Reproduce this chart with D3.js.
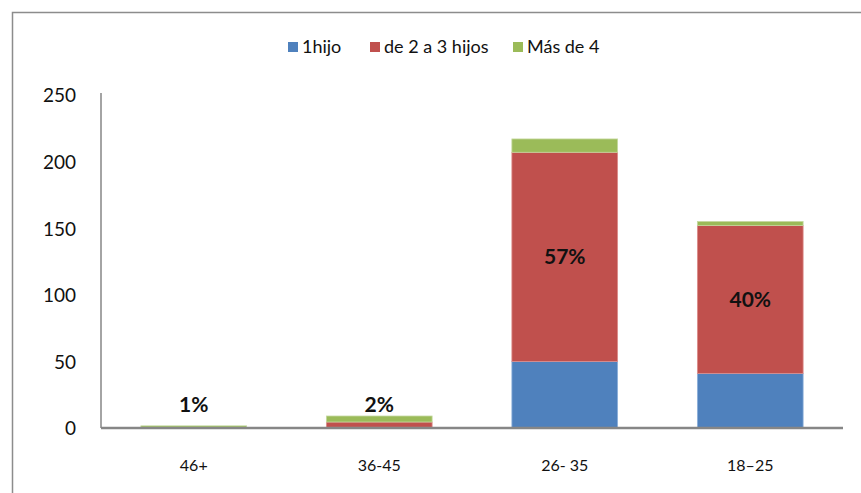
<!DOCTYPE html>
<html>
<head>
<meta charset="utf-8">
<script src="https://cdn.jsdelivr.net/npm/d3@7"></script>
<style>
  html, body { margin: 0; padding: 0; background: #fff; }
  svg { display: block; font-family: Lato, "Open Sans", sans-serif; }
</style>
</head>
<body>
<svg id="chart" width="861" height="493"></svg>
<script>
// Age groups and children counts per group
const categories = ["46+", "36-45", "26- 35", "18\u201325"];
const oneChild = [0, 0.5, 50, 41];
const twoToThree = [0.3, 4, 157, 111];
const fourPlus = [1.3, 4.5, 10, 3];
const shareLabels = ["1%", "2%", "57%", "40%"];
const seriesNames = ["1hijo", "de 2 a 3 hijos", "M\u00e1s de 4"];
const yTicks = [0, 50, 100, 150, 200, 250];

const colors = ["#4F81BD", "#C0504D", "#9BBB59"];
const strokes = ["#8EB0DA", "#DC8E8C", "#C4D99E"];

const svg = d3.select("#chart");
const W = 861, H = 493;

// outer chart frame
svg.append("rect")
  .attr("x", 12.5).attr("y", 12.5)
  .attr("width", W + 20).attr("height", H + 20)
  .attr("fill", "none").attr("stroke", "#8C8C8C").attr("stroke-width", 1.5);

const plot = { left: 101, right: 843, top: 95, bottom: 428 };

const x = d3.scaleBand()
  .domain(categories)
  .range([plot.left, plot.right])
  .paddingInner(0.43)
  .paddingOuter(0.215);

const y = d3.scaleLinear().domain([0, 250]).range([plot.bottom, plot.top]);

const rows = categories.map((c, i) => ({
  cat: c, s0: oneChild[i], s1: twoToThree[i], s2: fourPlus[i], label: shareLabels[i]
}));
const stack = d3.stack().keys(["s0", "s1", "s2"])(rows);

// stacked bars
stack.forEach((layer, k) => {
  svg.append("g").selectAll("rect")
    .data(layer)
    .join("rect")
    .attr("x", d => x(d.data.cat))
    .attr("width", x.bandwidth())
    .attr("y", d => y(d[1]))
    .attr("height", d => Math.max(0, y(d[0]) - y(d[1])))
    .attr("fill", colors[k])
    .attr("stroke", strokes[k])
    .attr("stroke-width", 0.8);
});

// y axis: labels only, plus the axis line
const yAxis = d3.axisLeft(y).tickValues(yTicks).tickSize(0).tickPadding(0);
const gy = svg.append("g").attr("transform", `translate(${plot.left - 25},0)`).call(yAxis);
gy.select(".domain").remove();
gy.selectAll("text")
  .attr("font-size", 19).attr("fill", "#111").attr("dy", "0.36em")
  .attr("font-family", "Lato, 'Open Sans', sans-serif");

svg.append("line")
  .attr("x1", plot.left).attr("x2", plot.left)
  .attr("y1", plot.top - 2).attr("y2", plot.bottom)
  .attr("stroke", "#868686").attr("stroke-width", 1.5);

// x axis
const xAxis = d3.axisBottom(x).tickSize(0).tickPadding(0);
const gx = svg.append("g").attr("transform", `translate(0,${plot.bottom})`).call(xAxis);
gx.select(".domain").remove();
gx.selectAll("text")
  .attr("font-size", 16).attr("fill", "#111").attr("y", 32)
  .attr("font-family", "Lato, 'Open Sans', sans-serif");

svg.append("line")
  .attr("x1", plot.left).attr("x2", plot.right)
  .attr("y1", plot.bottom).attr("y2", plot.bottom)
  .attr("stroke", "#868686").attr("stroke-width", 2.5);

// share labels: centred on the 2-3 segment, lifted above short bars
svg.append("g").selectAll("text")
  .data(stack[1])
  .join("text")
  .attr("x", d => x(d.data.cat) + x.bandwidth() / 2)
  .attr("y", d => {
    const mid = (y(d[0]) + y(d[1])) / 2;
    return Math.min(mid, y(0) - 24);
  })
  .attr("dy", "0.36em")
  .attr("text-anchor", "middle")
  .attr("font-size", 21).attr("font-weight", "bold").attr("fill", "#111")
  .text(d => d.data.label);

// legend
const legendItems = [
  { name: seriesNames[0], x: 288 },
  { name: seriesNames[1], x: 370 },
  { name: seriesNames[2], x: 513 }
];
const lg = svg.append("g");
legendItems.forEach((it, k) => {
  lg.append("rect").attr("x", it.x).attr("y", 42).attr("width", 10).attr("height", 10)
    .attr("fill", colors[k]);
  lg.append("text").attr("x", it.x + 14).attr("y", 47).attr("dy", "0.36em")
    .attr("font-size", 18).attr("fill", "#111").text(it.name);
});
</script>
</body>
</html>
